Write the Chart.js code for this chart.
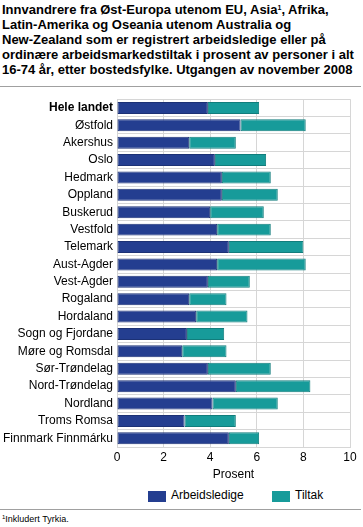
<!DOCTYPE html>
<html>
<head>
<meta charset="utf-8">
<script src="https://cdn.jsdelivr.net/npm/chart.js@4"></script>
<style>
  html, body { margin:0; padding:0; background:#fff; }
  body { width:363px; height:527px; position:relative; overflow:hidden; font-family:"Liberation Sans", Arial, sans-serif; }
  #title { position:absolute; left:2px; top:2px; width:362px; font-weight:bold; font-size:13px; line-height:15px; color:#000; white-space:nowrap; }
  #rule1 { position:absolute; left:0; top:86px; width:361px; height:1px; background:#a0a0a0; }
  #rule2 { position:absolute; left:0; top:509px; width:361px; height:1px; background:#a0a0a0; }
  #foot { position:absolute; left:2px; top:514px; font-size:9px; color:#000; }
  #wrap { position:absolute; left:0; top:88px; width:363px; height:394px; }
  .leg { position:absolute; top:488px; font-size:12px; color:#000; line-height:15px; }
  .box { position:absolute; top:491px; width:18px; height:11px; }
</style>
</head>
<body>
<div id="title">Innvandrere fra Øst-Europa utenom EU, Asia<sup style="font-size:7px;vertical-align:4px;line-height:0">1</sup>, Afrika,<br>Latin-Amerika og Oseania utenom Australia og<br>New-Zealand som er registrert arbeidsledige eller på<br>ordinære arbeidsmarkedstiltak i prosent av personer i alt<br>16-74 år, etter bostedsfylke. Utgangen av november 2008</div>
<div id="rule1"></div>
<div id="wrap"><canvas id="c"></canvas></div>
<div id="legend"></div>
<div id="rule2"></div>
<div id="foot"><sup style="font-size:6px;vertical-align:3px;line-height:0">1</sup>Inkludert Tyrkia.</div>
<script>
const categories = ["Hele landet","Østfold","Akershus","Oslo","Hedmark","Oppland","Buskerud","Vestfold","Telemark","Aust-Agder","Vest-Agder","Rogaland","Hordaland","Sogn og Fjordane","Møre og Romsdal","Sør-Trøndelag","Nord-Trøndelag","Nordland","Troms Romsa","Finnmark Finnmárku"];
const arbeidsledige = [3.9,5.3,3.1,4.2,4.5,4.5,4.0,4.3,4.8,4.3,3.9,3.1,3.4,3.0,2.8,3.9,5.1,4.1,2.9,4.8];
const tiltak = [2.2,2.8,2.0,2.2,2.1,2.4,2.3,2.3,3.2,3.8,1.8,1.6,2.2,1.6,1.9,2.7,3.2,2.8,2.2,1.3];
const xTicks = [0,2,4,6,8,10];
const seriesNames = ["Arbeidsledige","Tiltak"];
const seriesColors = ["#243e90","#179b9a"];
const seriesBorders = ["#1c3175","#117d7c"];

const gridColor = "#d6d6d6";
const chart = new Chart(document.getElementById("c"), {
  type: "bar",
  data: {
    labels: categories,
    datasets: [
      { label: seriesNames[0], data: arbeidsledige, backgroundColor: seriesColors[0], borderColor: seriesBorders[0], borderWidth: 1, borderSkipped: false },
      { label: seriesNames[1], data: tiltak, backgroundColor: seriesColors[1], borderColor: seriesBorders[1], borderWidth: 1, borderSkipped: false }
    ]
  },
  options: {
    indexAxis: "y",
    responsive: true,
    maintainAspectRatio: false,
    animation: false,
    layout: { padding: { top: 10, right: 13, left: 0, bottom: 0 } },
    datasets: { bar: { barPercentage: 0.69, categoryPercentage: 1.0 } },
    scales: {
      x: {
        stacked: true,
        min: 0, max: 10,
        afterBuildTicks: (s) => { s.ticks = xTicks.map(v => ({ value: v })); },
        afterFit: (s) => { s.height = 35; },
        grid: { color: gridColor, drawTicks: false },
        border: { color: gridColor },
        ticks: { color: "#000", font: { family: "Liberation Sans", size: 12 }, padding: 3, maxRotation: 0 },
        title: { display: true, text: "Prosent", color: "#000", font: { family: "Liberation Sans", size: 12 }, padding: { top: 0, bottom: 0 } }
      },
      y: {
        stacked: true,
        afterFit: (s) => { s.width = 117; },
        grid: { color: gridColor, drawTicks: false, offset: true },
        border: { color: gridColor },
        ticks: {
          autoSkip: false,
          color: "#000",
          padding: 4,
          font: (ctx) => ({ family: "Liberation Sans", size: 12, weight: ctx.index === 0 ? "bold" : "normal" })
        }
      }
    },
    plugins: {
      legend: { display: false },
      tooltip: { enabled: false }
    }
  }
});

// HTML legend built from the series definitions
const legend = document.getElementById("legend");
const legendX = [148, 272];
seriesNames.forEach((name, i) => {
  const b = document.createElement("div");
  b.className = "box";
  b.style.left = legendX[i] + "px";
  b.style.background = seriesColors[i];
  legend.appendChild(b);
  const t = document.createElement("div");
  t.className = "leg";
  t.style.left = (legendX[i] + 23) + "px";
  t.textContent = name;
  legend.appendChild(t);
});
</script>
</body>
</html>
